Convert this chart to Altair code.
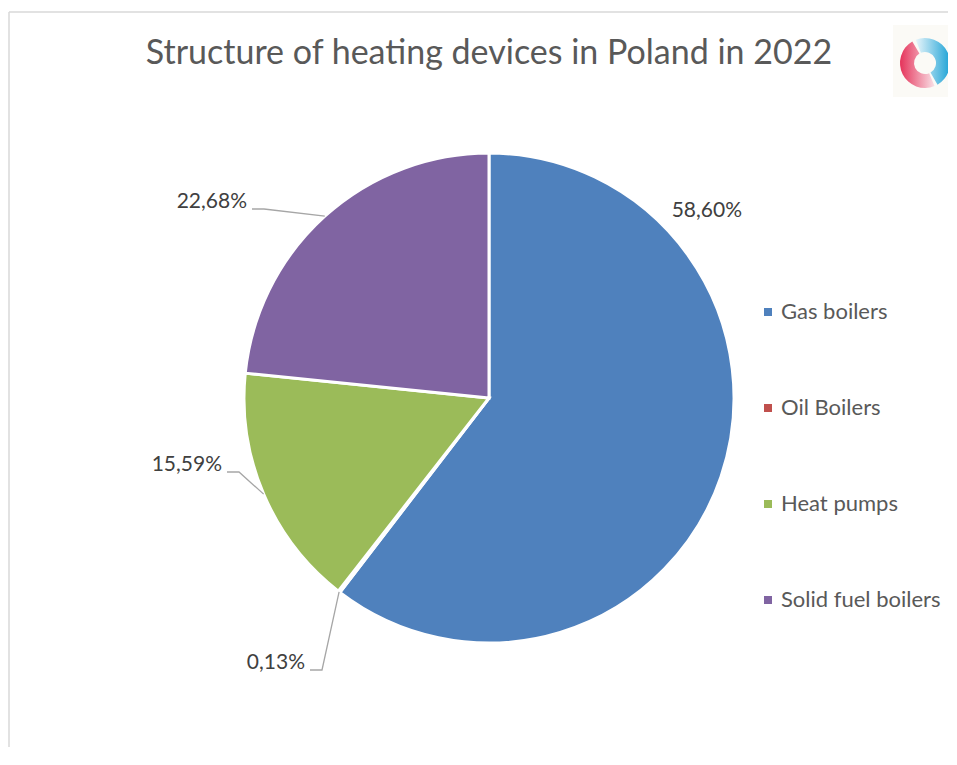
import math
import altair as alt
import pandas as pd

# ---- data ----
CATEGORIES = ["Gas boilers", "Oil Boilers", "Heat pumps", "Solid fuel boilers"]
VALUES = [58.60, 0.13, 15.59, 22.68]
LABELS = ["58,60%", "0,13%", "15,59%", "22,68%"]
COLORS = ["#4F81BD", "#C0504D", "#9BBB59", "#8064A2"]
TITLE = "Structure of heating devices in Poland in 2022"

# ---- layout (px, relative to pie centre) ----
LABEL_POS = [(253, -187), (-184, 265), (-267, 67), (-242, -196)]
HAS_LEADER = [False, True, True, True]
R = 245
HALF = 289
FONT = "Lato"

pie_df = pd.DataFrame({"category": CATEGORIES, "value": VALUES,
                       "order": list(range(len(CATEGORIES)))})

total = sum(VALUES)
cum = 0.0
line_rows, label_rows = [], []
for i, v in enumerate(VALUES):
    mid = (cum + v / 2) / total * 2 * math.pi
    cum += v
    lx, ly = LABEL_POS[i]
    label_rows.append({"category": CATEGORIES[i], "label": LABELS[i], "x": lx, "y": ly})
    if HAS_LEADER[i]:
        sx, sy = lx + 5, ly + 7
        pts = [(sx, sy), (sx + 12, sy), (R * math.sin(mid), -R * math.cos(mid))]
        for k, (px, py) in enumerate(pts):
            line_rows.append({"category": CATEGORIES[i], "x": px, "y": py, "seq": k})
line_df = pd.DataFrame(line_rows)
label_df = pd.DataFrame(label_rows)

xs = alt.Scale(domain=[-HALF, HALF], nice=False, zero=False)
ys = alt.Scale(domain=[-HALF, HALF], reverse=True, nice=False, zero=False)

pie = alt.Chart(pie_df).mark_arc(radius=R, stroke="white", strokeWidth=3).encode(
    theta=alt.Theta("value:Q", stack=True),
    order=alt.Order("order:Q"),
    color=alt.Color("category:N",
                    scale=alt.Scale(domain=CATEGORIES, range=COLORS),
                    sort=CATEGORIES,
                    legend=alt.Legend(orient="none", legendX=557, legendY=192, title=None,
                                      symbolType="square", symbolSize=64, symbolStrokeWidth=0,
                                      labelFontSize=22, labelFont=FONT, labelColor="#595959",
                                      rowPadding=74, labelOffset=2, padding=0)),
)

lines = alt.Chart(line_df).mark_line(color="#A6A6A6", strokeWidth=1.3).encode(
    x=alt.X("x:Q", scale=xs, axis=None),
    y=alt.Y("y:Q", scale=ys, axis=None),
    detail="category:N",
    order="seq:Q",
)

labels = alt.Chart(label_df).mark_text(align="right", baseline="middle", font=FONT,
                                       fontSize=21, color="#404040").encode(
    x=alt.X("x:Q", scale=xs, axis=None),
    y=alt.Y("y:Q", scale=ys, axis=None),
    text="label:N",
)

dummy = pd.DataFrame({"a": [0]})
title = alt.Chart(pd.DataFrame({"t": [TITLE]})).mark_text(
    align="center", baseline="alphabetic", font=FONT, fontSize=34, color="#595959").encode(
    x=alt.value(HALF), y=alt.value(-45), text="t:N")

frame_top = alt.Chart(dummy).mark_rule(color="#D9D9D9", strokeWidth=1.5).encode(
    x=alt.value(-191), x2=alt.value(760), y=alt.value(-97))
frame_left = alt.Chart(dummy).mark_rule(color="#D9D9D9", strokeWidth=1.5).encode(
    x=alt.value(-191), y=alt.value(-97), y2=alt.value(660))

logo_bg = alt.Chart(dummy).mark_rect(color="#FBFAF6").encode(
    x=alt.value(693), x2=alt.value(750), y=alt.value(-84), y2=alt.value(-12))
blue_grad = alt.LinearGradient(gradient="linear", x1=0, y1=0, x2=1, y2=0,
                               stops=[alt.GradientStop(color="#EAF6FB", offset=0),
                                      alt.GradientStop(color="#1FA3D6", offset=1)])
red_grad = alt.LinearGradient(gradient="linear", x1=0, y1=0, x2=1, y2=0,
                              stops=[alt.GradientStop(color="#E5335A", offset=0),
                                     alt.GradientStop(color="#F9E0E6", offset=1)])
logo_blue = alt.Chart(dummy).mark_arc(theta=5.9, theta2=8.9, radius=25, radius2=11,
                                      color=blue_grad).encode(
    x=alt.value(725), y=alt.value(-46))
logo_red = alt.Chart(dummy).mark_arc(theta=2.75, theta2=5.75, radius=25, radius2=11,
                                     color=red_grad).encode(
    x=alt.value(725), y=alt.value(-46))

chart = alt.layer(frame_top, frame_left, logo_bg, logo_blue, logo_red, title,
                  pie, lines, labels).properties(
    width=2 * HALF, height=2 * HALF,
    padding={"left": 192, "top": 101, "right": 170, "bottom": 60},
    autosize=alt.AutoSizeParams(type="none"),
).configure_view(stroke=None)

chart.save("out.html", embed_options={"renderer": "svg", "actions": False})
